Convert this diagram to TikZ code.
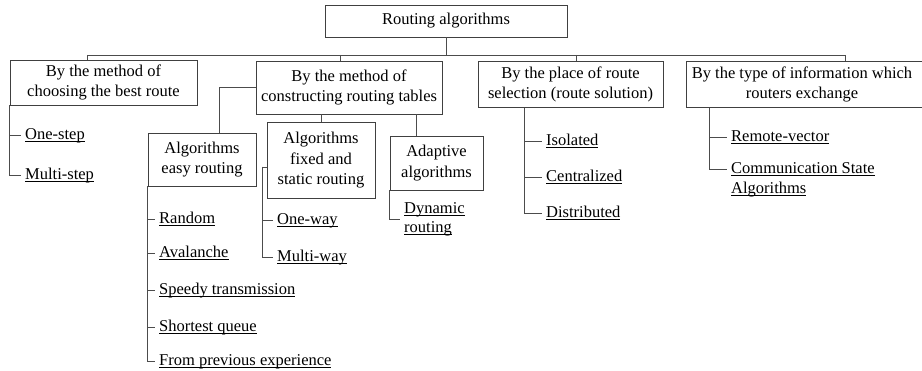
\documentclass[tikz,border=0pt]{standalone}
\usepackage{fontspec}
\setmainfont{Liberation Serif}

\newcommand{\uln}[1]{\underline{\raisebox{0pt}[\height][0pt]{#1}}}

\tikzset{
	box/.style={draw=black!75,line width=0.9pt,inner sep=0pt,align=center,
		font=\fontsize{16.5}{20.5}\selectfont},
	leaf/.style={anchor=west,inner sep=0pt,align=left,
		font=\fontsize{16.5}{19}\selectfont},
	link/.style={draw=black!70,line width=0.9pt},
	tick/.style={link,shorten >=4pt},
}

\begin{document}
\begin{tikzpicture}[x=1pt,y=-1pt]
	\useasboundingbox (0,0) rectangle (922,371);

	\node[box,minimum width=242,minimum height=32] (root) at (446,21) {Routing algorithms};

	\node[box,minimum width=187,minimum height=45] (method) at (103.5,82.5)
		{By the method of\\choosing the best route};
	\node[box,minimum width=186,minimum height=53] (tables) at (349,87.5)
		{By the method of\\constructing routing tables};
	\node[box,minimum width=185,minimum height=46] (place) at (570.5,84.5)
		{By the place of route\\selection (route solution)};
	\node[box,minimum width=250,minimum height=46] (info) at (811,84.5)
		{\hspace*{-18pt}By the type of information which\\\hspace*{-18pt}routers exchange};

	\node[box,minimum width=108,minimum height=53] (easy) at (202,159.5)
		{Algorithms\\easy routing};
	\node[box,minimum width=108,minimum height=76] (fixed) at (321,160.5)
		{Algorithms\\fixed and\\static routing};
	\node[box,minimum width=93,minimum height=54] (adaptive) at (436.5,163)
		{Adaptive\\algorithms};

	\node[leaf] (onestep) at (25,135) {\uln{One-step}};
	\node[leaf] (multistep) at (25,175) {\uln{Multi-step}};

	\node[leaf] (random) at (159,219) {\uln{Random}};
	\node[leaf] (avalanche) at (159,253) {\uln{Avalanche}};
	\node[leaf] (speedy) at (159,290) {\uln{Speedy transmission}};
	\node[leaf] (shortest) at (159,327) {\uln{Shortest queue}};
	\node[leaf] (previous) at (159,361) {\uln{From previous experience}};

	\node[leaf] (oneway) at (277,220) {\uln{One-way}};
	\node[leaf] (multiway) at (277,257) {\uln{Multi-way}};

	\node[leaf] (dynamic) at (404,219) {\uln{Dynamic}\\\uln{routing}};

	\node[leaf] (isolated) at (546,141) {\uln{Isolated}};
	\node[leaf] (centralized) at (546,177) {\uln{Centralized}};
	\node[leaf] (distributed) at (546,213) {\uln{Distributed}};

	\node[leaf] (remote) at (731,137) {\uln{Remote-vector}};
	\node[leaf] (comm) at (731,169) {\uln{Communication State}};
	\node[leaf] (commalg) at (731,189) {\uln{Algorithms}};

	% bus under the root
	\coordinate (d1) at (87,55);
	\coordinate (d2) at (340,55);
	\coordinate (d3) at (576,55);
	\coordinate (d4) at (845,55);
	\coordinate (fhook) at (262,167);

	\draw[link] (root.south) -- (root.south |- d1);
	\draw[link] (d1) -- (d4);
	\draw[link] (d1) -- (d1 |- method.north);
	\draw[link] (d2) -- (d2 |- tables.north);
	\draw[link] (d3) -- (d3 |- place.north);
	\draw[link] (d4) -- (d4 |- info.north);

	\draw[tick] (method.south west) |- (onestep.west);
	\draw[tick] (method.south west) |- (multistep.west);

	\draw[link] (tables.west) -| ([xshift=17pt]easy.north);
	\draw[link] (fixed.north) -- (fixed.north |- tables.south);
	\draw[link] ([xshift=-20.5pt]adaptive.north) -- ([xshift=-20.5pt]adaptive.north |- tables.south);

	\foreach \n in {random,avalanche,speedy,shortest,previous}
		\draw[tick] (easy.south west) |- (\n.west);

	\draw[link] (fixed.west |- fhook) -- (fhook);
	\draw[tick] (fhook) |- (oneway.west);
	\draw[tick] (fhook) |- (multiway.west);

	\draw[tick] (adaptive.south west) |- (dynamic.west);

	\foreach \n in {isolated,centralized,distributed}
		\draw[tick] ([xshift=-46.5pt]place.south) |- (\n.west);

	\draw[tick] ([xshift=24pt]info.south west) |- (remote.west);
	\draw[tick] ([xshift=24pt]info.south west) |- (comm.west);
\end{tikzpicture}
\end{document}
